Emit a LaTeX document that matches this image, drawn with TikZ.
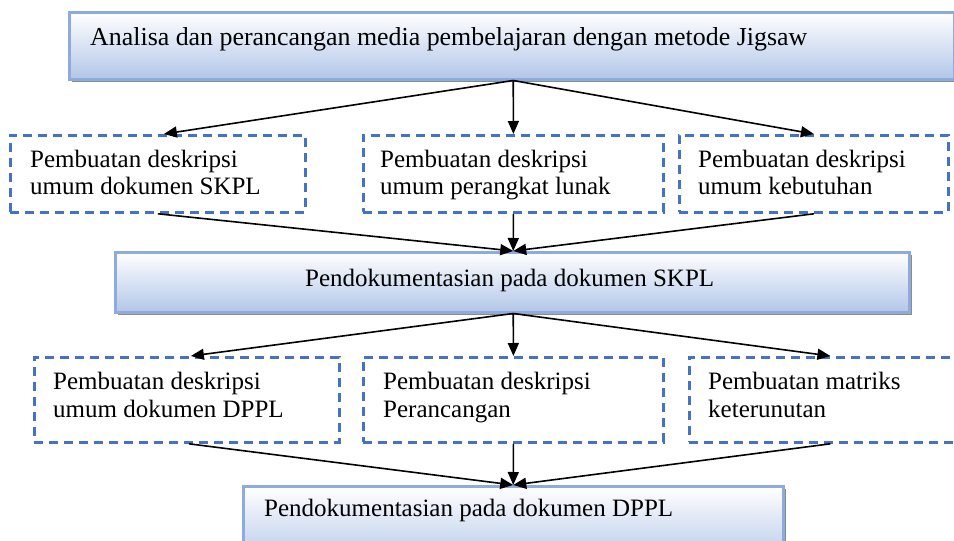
\documentclass[tikz,border=0pt]{standalone}
\usepackage{fontspec}
\setmainfont{Liberation Serif}
\usetikzlibrary{arrows.meta,calc,shadows}
\definecolor{edgeblue}{RGB}{143,170,220}
\definecolor{fillblue}{RGB}{178,198,232}
\definecolor{dashblue}{RGB}{68,114,196}
\definecolor{shadowgray}{RGB}{140,140,140}
\begin{document}
\begin{tikzpicture}[x=1pt,y=-1pt,
  gradbox/.style={draw=edgeblue, line width=2.5pt, top color=white, bottom color=fillblue,
    inner sep=0, anchor=north west,
    drop shadow={shadow xshift=3pt, shadow yshift=-3pt, opacity=1, fill=shadowgray}},
  dbox/.style={draw=dashblue, line width=2.8pt, dash pattern=on 9pt off 6pt, anchor=north west, inner sep=0},
  txt/.style={anchor=base west, inner sep=0, font=\fontsize{25}{28}\selectfont},
  arr/.style={line width=1.6pt, -{Triangle[length=13pt,width=11pt]}}]
\useasboundingbox (0,0) rectangle (954,541);
% solid gradient boxes
\node[gradbox, minimum width=885pt, minimum height=67pt] (top) at (68,11) {};
\node[gradbox, minimum width=794pt, minimum height=60pt] (skpl) at (114,251) {};
\node[gradbox, minimum width=540pt, minimum height=80pt] (dppl) at (242,485) {};
% dashed boxes row 1
\node[dbox, minimum width=295pt, minimum height=77pt] (a) at (9,134) {};
\node[dbox, minimum width=300pt, minimum height=77pt] (b) at (362,134) {};
\node[dbox, minimum width=269pt, minimum height=77pt] (c) at (678,134) {};
% dashed boxes row 2
\node[dbox, minimum width=305pt, minimum height=85pt] (d) at (33,356) {};
\node[dbox, minimum width=300pt, minimum height=85pt] (e) at (362,356) {};
\node[dbox, minimum width=268pt, minimum height=85pt] (f) at (688,356) {};
% texts
\node[txt, font=\fontsize{25.9}{28}\selectfont] (ttop) at (90,45) {Analisa dan perancangan media pembelajaran dengan metode Jigsaw};
\node[txt] (tskpl) at (305,286) {Pendokumentasian pada dokumen SKPL};
\node[txt] (tdppl) at (264,516) {Pendokumentasian pada dokumen DPPL};
\node[txt] (ta1) at (30,167) {Pembuatan deskripsi};
\node[txt] (ta2) at (30,194) {umum dokumen SKPL};
\node[txt] (tb1) at (380,167) {Pembuatan deskripsi};
\node[txt] (tb2) at (380,194) {umum perangkat lunak};
\node[txt] (tc1) at (698,167) {Pembuatan deskripsi};
\node[txt] (tc2) at (698,194) {umum kebutuhan};
\node[txt] (td1) at (53,389) {Pembuatan deskripsi};
\node[txt] (td2) at (53,417) {umum dokumen DPPL};
\node[txt] (te1) at (383,389) {Pembuatan deskripsi};
\node[txt] (te2) at (383,417) {Perancangan};
\node[txt] (tf1) at (708,389) {Pembuatan matriks};
\node[txt] (tf2) at (708,417) {keterunutan};
% arrows
\coordinate (topout) at ($(top.south)+(1.5,0)$);
\draw[arr] (topout) -- ($(a.north)+(6,0)$);
\draw[arr] (topout) -- (b.north);
\draw[arr] (topout) -- (c.north);
\coordinate (skplin) at ($(skpl.north)+(1,0)$);
\draw[arr] (a.south) -- (skplin);
\draw[arr] (b.south) -- (skplin);
\draw[arr] (c.south) -- (skplin);
\coordinate (skplout) at ($(skpl.south)+(1,0)$);
\draw[arr] (skplout) -- ($(d.north)+(4,0)$);
\draw[arr] (skplout) -- (e.north);
\draw[arr] (skplout) -- ($(f.north)+(7,0)$);
\draw[arr] ($(d.south)+(2,0)$) -- (dppl.north);
\draw[arr] (e.south) -- (dppl.north);
\draw[arr] ($(f.south)+(7,0)$) -- (dppl.north);
\end{tikzpicture}
\end{document}
